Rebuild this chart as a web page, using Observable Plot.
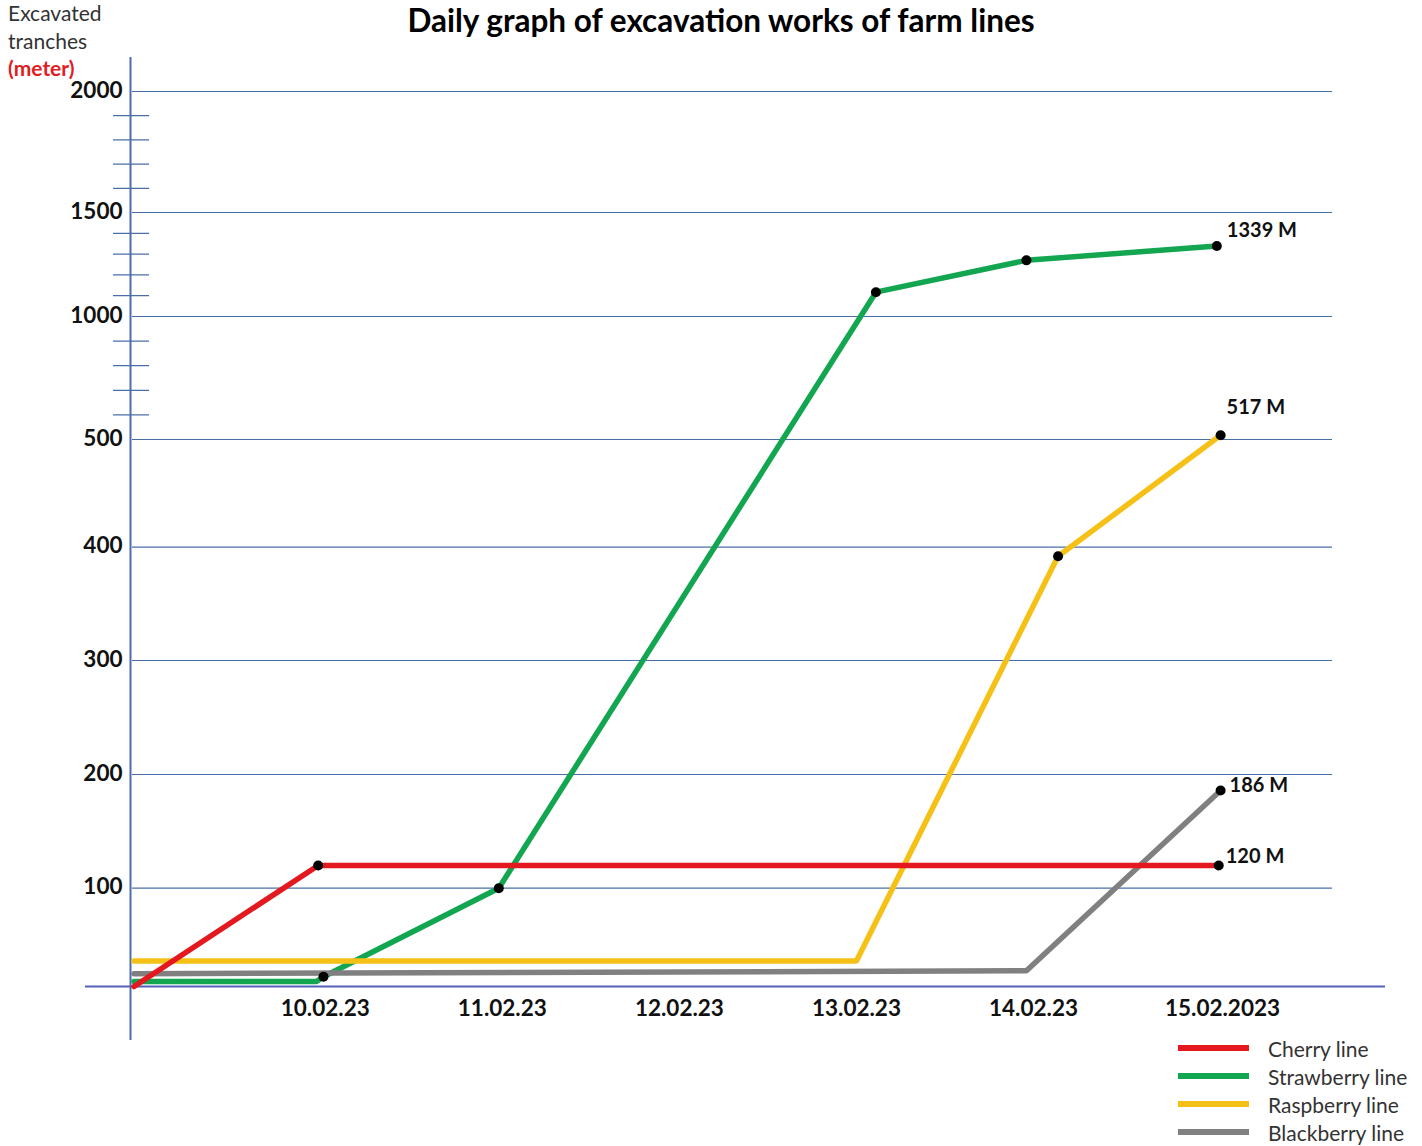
<!DOCTYPE html>
<html><head><meta charset="utf-8">
<script src="https://cdn.jsdelivr.net/npm/d3@7"></script>
<script src="https://cdn.jsdelivr.net/npm/@observablehq/plot@0.6"></script>
<style>
body{margin:0;background:#fff;font-family:Lato,"Open Sans",sans-serif;}
#wrap{position:relative;width:1422px;height:1146px;overflow:hidden;background:#fff;}
#chart{position:absolute;left:0;top:0;}
.title{position:absolute;left:721px;top:1px;transform:translateX(-50%);font-weight:700;font-size:31.5px;color:#000;white-space:nowrap;}
.ylab{position:absolute;left:8px;top:-1px;font-size:21px;line-height:27.5px;color:#333;}
.ylab b{color:#e0201f;}
.legend{position:absolute;left:1178px;top:1034px;}
.legend .row{display:flex;align-items:center;height:28px;}
.swatch{width:71px;height:6px;margin-right:19px;}
.legend span{font-size:21px;color:#333;}
</style></head>
<body>
<div id="wrap">
  <div id="chart"></div>
  <div class="title">Daily graph of excavation works of farm lines</div>
  <div class="ylab">Excavated<br>tranches<br><b>(meter)</b></div>
  <div class="legend" id="legend"></div>
</div>
<script>
// ---- data ----
const dayTicks = [10, 11, 12, 13, 14, 15];
const dayLabels = ["10.02.23", "11.02.23", "12.02.23", "13.02.23", "14.02.23", "15.02.2023"];
const yTicks = [0, 100, 200, 300, 400, 500, 1000, 1500, 2000];
const yMinorTicks = [600, 700, 800, 900, 1100, 1200, 1300, 1400, 1600, 1700, 1800, 1900];
const seriesNames = ["Cherry line", "Strawberry line", "Raspberry line", "Blackberry line"];
const seriesColors = ["#e3191f", "#12a650", "#f5c117", "#808080"];

const cherryDays = [8.92, 9.96, 14.98];
const cherryMeters = [0, 120, 120];
const cherryDots = [false, true, true];

const strawberryDays = [8.92, 9.95, 9.99, 10.98, 13.11, 13.96, 14.97];
const strawberryMeters = [5, 5, 10, 100, 1117, 1270, 1339];
const strawberryDots = [false, false, true, true, true, true, true];

const raspberryDays = [8.92, 13.0, 14.13, 14.99];
const raspberryMeters = [26, 26, 392, 517];
const raspberryDots = [false, false, true, true];

const blackberryDays = [8.92, 13.96, 14.99];
const blackberryMeters = [13, 16, 186];
const blackberryDots = [false, false, true];

const endLabels = ["120 M", "1339 M", "517 M", "186 M"];

// ---- build rows ----
function rowsOf(name, days, meters, dots) {
  return days.map((d, i) => ({name, day: d, meters: meters[i], dot: dots[i]}));
}
const cherry = rowsOf(seriesNames[0], cherryDays, cherryMeters, cherryDots);
const strawberry = rowsOf(seriesNames[1], strawberryDays, strawberryMeters, strawberryDots);
const raspberry = rowsOf(seriesNames[2], raspberryDays, raspberryMeters, raspberryDots);
const blackberry = rowsOf(seriesNames[3], blackberryDays, blackberryMeters, blackberryDots);
const rows = [...strawberry, ...raspberry, ...blackberry, ...cherry];
const lastOf = s => [s[s.length - 1]];

const axisBlue = "#4a6fa8";
const labelFont = {fontSize: 20, fontWeight: "bold", fill: "#111", textAnchor: "start"};

const chart = Plot.plot({
  width: 1422, height: 1146,
  marginLeft: 85, marginRight: 37, marginTop: 57, marginBottom: 106,
  x: {type: "linear", domain: [8.9, 14, 15], range: [130, 1033, 1222], axis: null},
  y: {type: "linear", domain: yTicks, range: [986, 887.7, 774, 660, 546.7, 439, 316, 212, 91], axis: null},
  color: {domain: seriesNames, range: seriesColors},
  style: {background: "transparent", fontFamily: "Lato, sans-serif", overflow: "visible"},
  marks: [
    Plot.ruleY(yTicks.slice(1), {stroke: axisBlue, strokeWidth: 1.2, insetLeft: 47, insetRight: 53}),
    Plot.ruleY(yMinorTicks, {stroke: axisBlue, strokeWidth: 1.2, insetLeft: 28, insetRight: 1236}),
    Plot.ruleX([8.9], {stroke: axisBlue, strokeWidth: 2}),
    Plot.ruleY([0], {stroke: "#5262b8", strokeWidth: 2}),
    Plot.text(yTicks.slice(1), {x: 8.9, y: d => d, text: d => String(d), textAnchor: "end", dx: -8, dy: -1, fontSize: 22.5, fontWeight: "bold", fill: "#111"}),
    Plot.text(dayTicks, {x: d => d, y: 0, text: (d, i) => dayLabels[i], dy: 22, fontSize: 22.5, fontWeight: "bold", fill: "#111"}),
    Plot.line(rows, {x: "day", y: "meters", z: "name", stroke: "name", strokeWidth: 5.5, strokeLinejoin: "miter"}),
    Plot.dot(rows.filter(d => d.dot), {x: "day", y: "meters", r: 5, fill: "#000"}),
    Plot.text(lastOf(cherry), {x: "day", y: "meters", text: () => endLabels[0], dx: 7, dy: -9, ...labelFont}),
    Plot.text(lastOf(strawberry), {x: "day", y: "meters", text: () => endLabels[1], dx: 10, dy: -15, ...labelFont}),
    Plot.text(lastOf(raspberry), {x: "day", y: "meters", text: () => endLabels[2], dx: 6, dy: -28, ...labelFont}),
    Plot.text(lastOf(blackberry), {x: "day", y: "meters", text: () => endLabels[3], dx: 9, dy: -5, ...labelFont})
  ]
});
document.getElementById("chart").appendChild(chart);

const legend = document.getElementById("legend");
seriesNames.forEach((n, i) => {
  const row = document.createElement("div");
  row.className = "row";
  row.innerHTML = `<div class="swatch" style="background:${seriesColors[i]}"></div><span>${n}</span>`;
  legend.appendChild(row);
});
</script>
</body></html>
